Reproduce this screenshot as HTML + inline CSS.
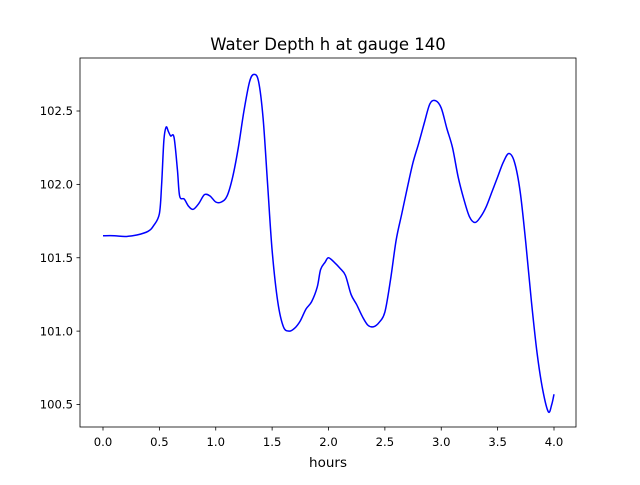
<!DOCTYPE html>
<html><head><meta charset="utf-8"><style>
body{margin:0;background:#fff}
svg text{font-family:"DejaVu Sans","Liberation Sans",sans-serif;fill:#000}
</style></head><body>
<svg id="chart" width="640" height="480" viewBox="0 0 640 480" xmlns="http://www.w3.org/2000/svg">
<rect width="640" height="480" fill="#fff"/>
<text x="328" y="50" font-size="16.5" text-anchor="middle">Water Depth h at gauge 140</text>
<g id="plot"></g>
<rect x="80" y="58" width="496" height="369" fill="none" stroke="#000" stroke-width="0.8"/>
<text x="328" y="467" font-size="13.5" text-anchor="middle">hours</text>
</svg>
<script>
const xs=[0,0.1,0.2,0.3,0.4,0.45,0.5,0.52,0.54,0.56,0.58,0.6,0.63,0.66,0.68,0.72,0.76,0.8,0.85,0.9,0.95,1.0,1.05,1.1,1.15,1.2,1.25,1.3,1.34,1.38,1.42,1.46,1.5,1.55,1.6,1.65,1.7,1.75,1.8,1.85,1.9,1.93,1.97,2.0,2.05,2.1,2.15,2.2,2.25,2.3,2.35,2.4,2.45,2.5,2.55,2.6,2.65,2.7,2.75,2.8,2.85,2.9,2.95,3.0,3.05,3.1,3.15,3.2,3.25,3.3,3.35,3.4,3.45,3.5,3.55,3.6,3.65,3.7,3.75,3.8,3.85,3.9,3.95,3.98,4.0];
const depth=[101.65,101.65,101.645,101.655,101.68,101.72,101.8,102.0,102.3,102.39,102.36,102.33,102.32,102.1,101.92,101.9,101.85,101.83,101.87,101.93,101.92,101.88,101.88,101.92,102.05,102.25,102.5,102.7,102.75,102.7,102.45,102.0,101.55,101.2,101.03,101.0,101.02,101.07,101.15,101.2,101.3,101.42,101.47,101.5,101.47,101.43,101.38,101.25,101.18,101.1,101.04,101.03,101.06,101.13,101.35,101.62,101.8,101.98,102.15,102.28,102.42,102.55,102.57,102.52,102.38,102.25,102.05,101.9,101.78,101.74,101.78,101.85,101.95,102.05,102.15,102.21,102.15,101.95,101.6,101.2,100.85,100.6,100.45,100.5,100.57];
const xTicks=[0,0.5,1,1.5,2,2.5,3,3.5,4];
const xTickLabels=["0.0","0.5","1.0","1.5","2.0","2.5","3.0","3.5","4.0"];
const yTicks=[100.5,101,101.5,102,102.5];
const yTickLabels=["100.5","101.0","101.5","102.0","102.5"];
const X=v=>103+v*112.75;
const Y=v=>111+(102.5-v)*146.75;
const NS="http://www.w3.org/2000/svg";
const g=document.getElementById('plot');
function mk(t,a){const e=document.createElementNS(NS,t);for(const k in a)e.setAttribute(k,a[k]);g.appendChild(e);return e;}
xTicks.forEach((v,i)=>{
  const l=mk('line',{x1:X(v),x2:X(v),y1:427,y2:430.5,stroke:'#000','stroke-width':0.8});
  
  
  const t=mk('text',{x:X(v),y:446,'font-size':11.6,'text-anchor':'middle'});
  t.textContent=xTickLabels[i];
  
  
});
yTicks.forEach((v,i)=>{
  const l=mk('line',{x1:76.5,x2:80,y1:Y(v),y2:Y(v),stroke:'#000','stroke-width':0.8});
  
  
  const t=mk('text',{x:73,y:Y(v)+4.2,'font-size':11.6,'text-anchor':'end'});
  t.textContent=yTickLabels[i];
  
  
});
const P=xs.map((x,i)=>[X(x),Y(depth[i])]);
let d='M'+P[0][0]+','+P[0][1];
for(let i=0;i<P.length-1;i++){
  const p0=P[i-1]||P[i],p1=P[i],p2=P[i+1],p3=P[i+2]||P[i+1];
  const c1=[p1[0]+(p2[0]-p0[0])/6,p1[1]+(p2[1]-p0[1])/6];
  const c2=[p2[0]-(p3[0]-p1[0])/6,p2[1]-(p3[1]-p1[1])/6];
  d+=' C'+c1+' '+c2+' '+p2;
}
const line=mk('path',{d:d,fill:'none',stroke:'#0000ff','stroke-width':1.5});


</script>
</body></html>
